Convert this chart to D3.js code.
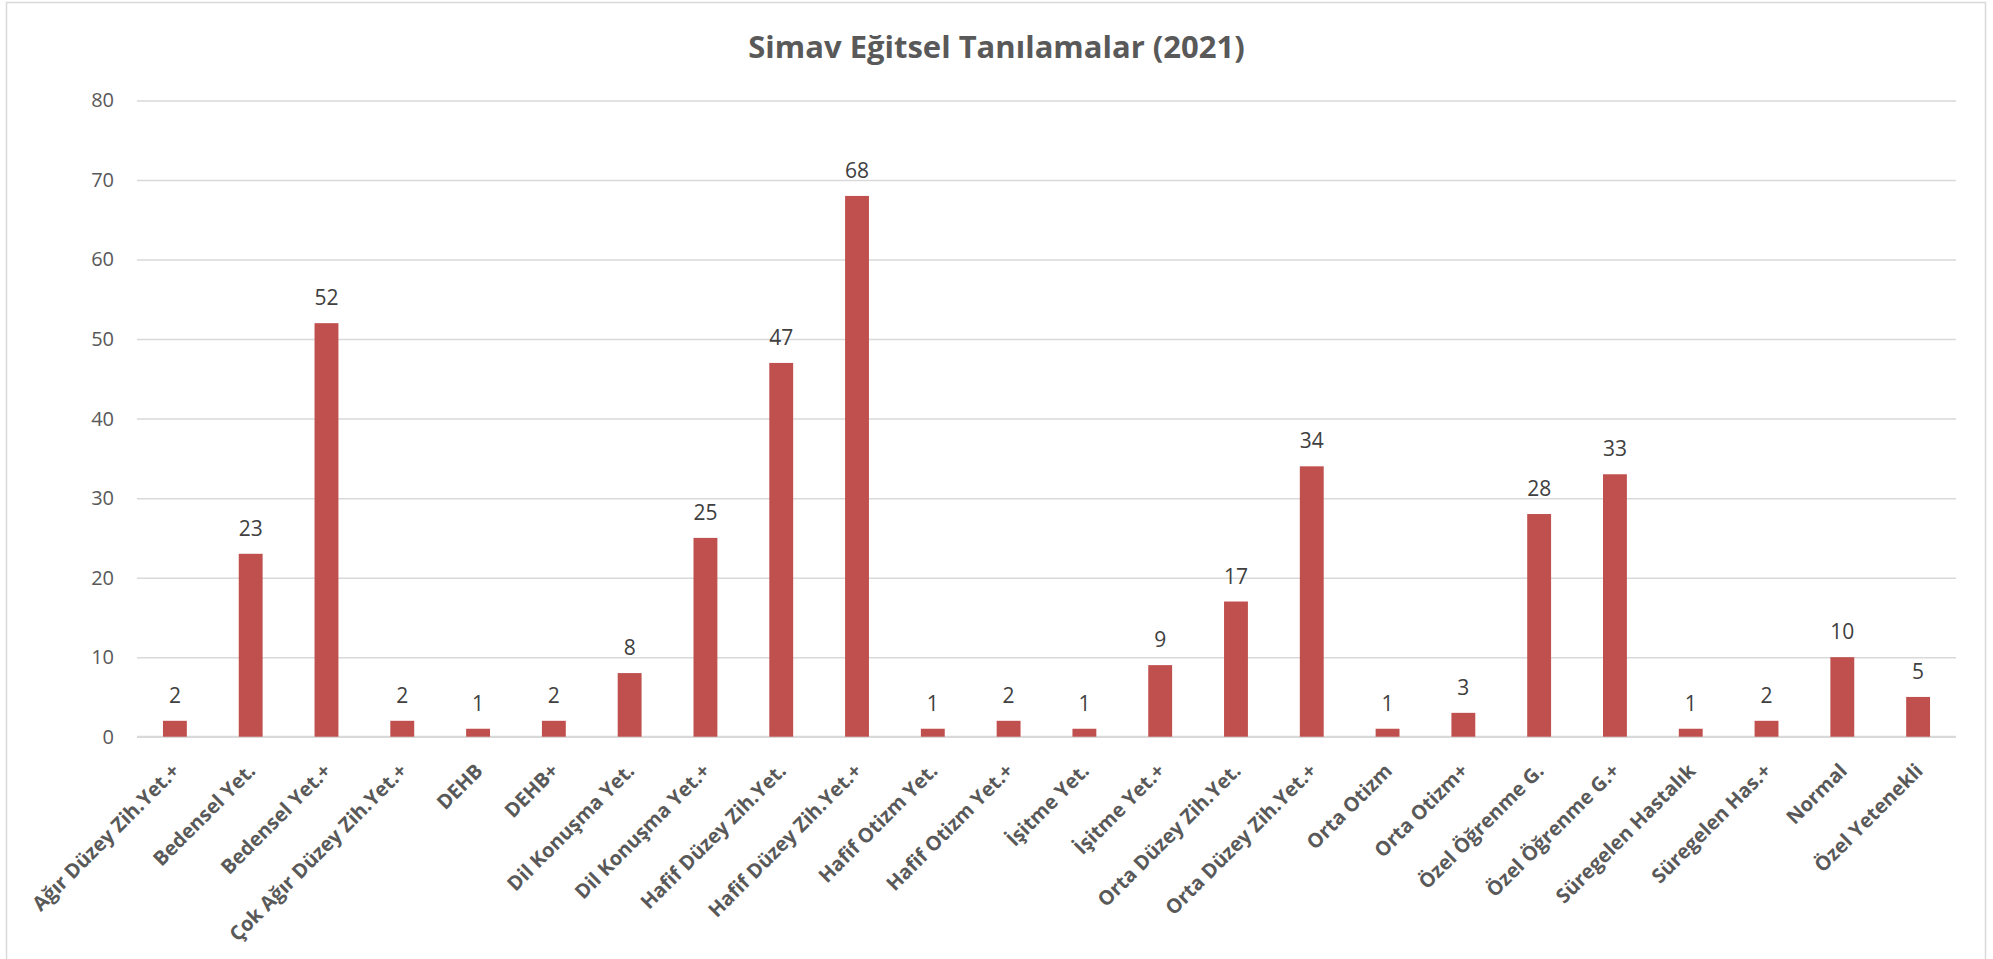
<!DOCTYPE html>
<html>
<head>
<meta charset="utf-8">
<script src="https://cdn.jsdelivr.net/npm/d3@7"></script>
<style>
  html, body { margin: 0; padding: 0; background: #ffffff; }
  svg { display: block; font-family: "Open Sans", "Noto Sans", sans-serif; }
</style>
</head>
<body>
<svg id="chart" width="1993" height="959"></svg>
<script>
const title = "Simav Eğitsel Tanılamalar (2021)";
const categories = [
  "Ağır Düzey Zih.Yet.+", "Bedensel Yet.", "Bedensel Yet.+", "Çok Ağır Düzey Zih.Yet.+",
  "DEHB", "DEHB+", "Dil Konuşma Yet.", "Dil Konuşma Yet.+",
  "Hafif Düzey Zih.Yet.", "Hafif Düzey Zih.Yet.+", "Hafif Otizm Yet.", "Hafif Otizm Yet.+",
  "İşitme Yet.", "İşitme Yet.+", "Orta Düzey Zih.Yet.", "Orta Düzey Zih.Yet.+",
  "Orta Otizm", "Orta Otizm+", "Özel Öğrenme G.", "Özel Öğrenme G.+",
  "Süregelen Hastalık", "Süregelen Has.+", "Normal", "Özel Yetenekli"
];
const values = [2, 23, 52, 2, 1, 2, 8, 25, 47, 68, 1, 2, 1, 9, 17, 34, 1, 3, 28, 33, 1, 2, 10, 5];
const yTicks = [0, 10, 20, 30, 40, 50, 60, 70, 80];

const W = 1993, H = 959;
const margin = { left: 137, right: 37, top: 100.5, bottom: 222.3 };
const svg = d3.select("#chart");

// chart border (bottom edge runs off the picture, as in the reference)
svg.append("rect")
  .attr("x", 6.5).attr("y", 2.5)
  .attr("width", 1979).attr("height", H + 10)
  .attr("fill", "#ffffff").attr("stroke", "#d9d9d9").attr("stroke-width", 1.5);

const x = d3.scaleBand()
  .domain(categories)
  .range([margin.left, W - margin.right])
  .paddingInner(0.685).paddingOuter(0.3425);

const y = d3.scaleLinear()
  .domain([0, 80])
  .range([H - margin.bottom, margin.top]);

// gridlines + y labels via axis
const yAxis = d3.axisLeft(y)
  .tickValues(yTicks)
  .tickSize(-(W - margin.left - margin.right))
  .tickPadding(23)
  .tickFormat(d3.format("d"));

const gy = svg.append("g")
  .attr("transform", `translate(${margin.left},0)`)
  .call(yAxis);
gy.select(".domain").remove();
gy.selectAll(".tick line").attr("stroke", "#d9d9d9").attr("stroke-width", 1.5);
gy.selectAll(".tick text")
  .attr("fill", "#595959")
  .style("font-size", "20px")
  .style("font-family", "'Open Sans', sans-serif");

// x axis
const xAxis = d3.axisBottom(x).tickSize(0).tickPadding(0);
const gx = svg.append("g")
  .attr("transform", `translate(0,${y(0)})`)
  .call(xAxis);
gx.select(".domain").attr("stroke", "#d9d9d9").attr("stroke-width", 2)
  .attr("d", `M${margin.left},0H${W - margin.right}`);
gx.selectAll(".tick text")
  .attr("fill", "#595959")
  .style("font-size", "20px")
  .style("font-weight", "bold")
  .style("font-family", "'Open Sans', sans-serif")
  .attr("text-anchor", "end")
  .attr("dy", "0.35em")
  .attr("y", 0)
  .attr("transform", "translate(1,30.5) rotate(-45)");

// bars
svg.append("g").selectAll("rect")
  .data(values)
  .join("rect")
  .attr("x", (d, i) => x(categories[i]))
  .attr("y", d => y(d))
  .attr("width", x.bandwidth())
  .attr("height", d => y(0) - y(d))
  .attr("fill", "#c0504d");

// data labels
svg.append("g").selectAll("text")
  .data(values)
  .join("text")
  .attr("x", (d, i) => x(categories[i]) + x.bandwidth() / 2)
  .attr("y", d => y(d) - 18)
  .attr("text-anchor", "middle")
  .attr("fill", "#404040")
  .style("font-size", "21px")
  .text(d => d);

// title
svg.append("text")
  .attr("x", W / 2)
  .attr("y", 58)
  .attr("text-anchor", "middle")
  .attr("fill", "#595959")
  .style("font-size", "31px")
  .style("font-weight", "bold")
  .text(title);
</script>
</body>
</html>
